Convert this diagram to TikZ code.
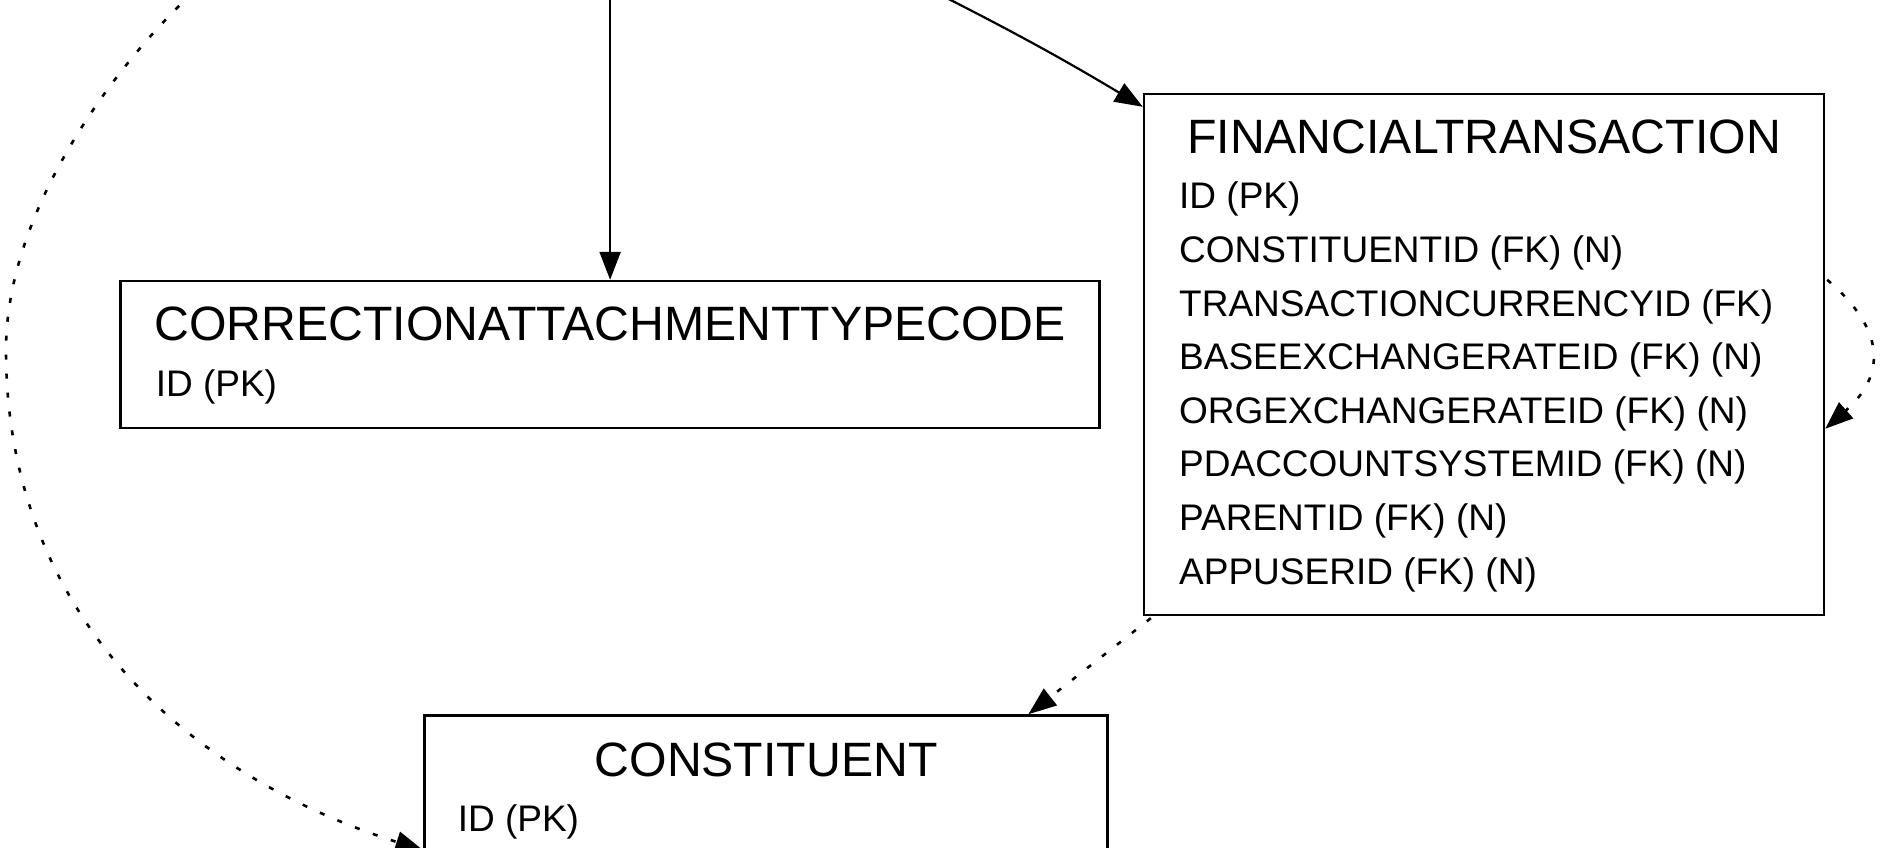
\documentclass[tikz,border=0pt]{standalone}
\usepackage{fontspec}
\setmainfont{Liberation Sans}
\usetikzlibrary{positioning,calc,arrows.meta}

\begin{document}
\begin{tikzpicture}[
    x=0.5pt, y=0.5pt,
    entity/.style={draw,line width=1.2pt,inner sep=0pt},
    tabletitle/.style={anchor=base,inner sep=0pt,font=\fontsize{24.1}{28}\selectfont},
    attr/.style={anchor=base west,inner sep=0pt,font=\fontsize{18.5}{22}\selectfont},
    fk/.style={line width=1.1pt,-{Triangle[length=14pt,width=10.5pt]}},
    nullfk/.style={fk,line width=1.3pt,dash pattern=on 2.5pt off 7pt}
    ]
        \useasboundingbox (0,0) rectangle (1881,-847);
        \node [entity,minimum width=340pt,minimum height=260.5pt](ft) at (1484,-354.5) {};
        \node [entity,minimum width=489.5pt,minimum height=73.5pt](cat) [left=21pt of ft] {};
        \node [entity,minimum width=341.5pt,minimum height=135pt](cons) [below=142.5pt of cat,xshift=78pt] {};
        % table titles
        \node [tabletitle](ft-title) at ([shift={(0,-61)}]ft.north) {FINANCIALTRANSACTION};
        \node [tabletitle](cat-title) at ([shift={(0,-61)}]cat.north) {CORRECTIONATTACHMENTTYPECODE};
        \node [tabletitle](cons-title) at ([shift={(0,-62)}]cons.north) {CONSTITUENT};
        % columns
        \foreach \f [count=\i from 0] in {ID (PK),CONSTITUENTID (FK) (N),TRANSACTIONCURRENCYID (FK),BASEEXCHANGERATEID (FK) (N),ORGEXCHANGERATEID (FK) (N),PDACCOUNTSYSTEMID (FK) (N),PARENTID (FK) (N),APPUSERID (FK) (N)}
            \node [attr](ft-\i) at ([shift={(36,-116-53.6*\i)}]ft.north west) {\f};
        \node [attr](cat-0) at ([shift={(36,-117)}]cat.north west) {ID (PK)};
        \node [attr](cons-0) at ([shift={(34,-117)}]cons.north west) {ID (PK)};
        % links from tables outside the view
        \coordinate (topa) at (cat.north |- 0,20);
        \coordinate (topb) at (931,10);
        \coordinate (topc) at (207,20);
        \draw [fk] (topa) -- (cat.north);
        \draw [fk] (topb) to[bend left=2] ([shift={(0,-14)}]ft.north west);
        \draw [nullfk] (topc) .. controls (131,-45) and (6,-200) .. (6,-350)
            .. controls (6,-600) and (170,-770) .. (cons.west);
        \draw [nullfk] ([shift={(8,-2)}]ft.south west) -- ([shift={(605,0)}]cons.north west);
        \draw [nullfk] ([shift={(2,-187)}]ft.north east) .. controls (1886,-330) and (1886,-375) .. ([shift={(0,-336)}]ft.north east);
\end{tikzpicture}
\end{document}
